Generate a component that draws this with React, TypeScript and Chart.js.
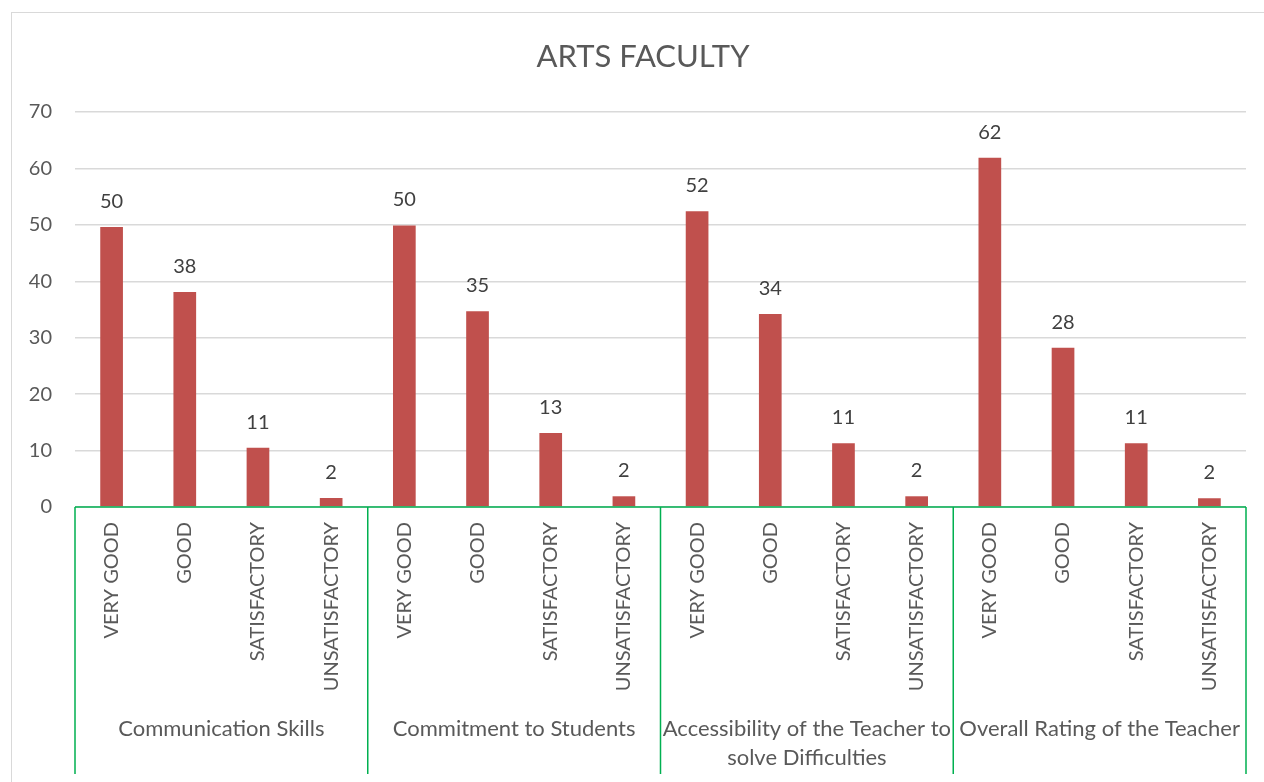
import React, { useEffect, useRef } from "react";
import { Chart, registerables } from "chart.js";

Chart.register(...registerables);

const TITLE = "ARTS FACULTY";
const ratingLabels = ["VERY GOOD", "GOOD", "SATISFACTORY", "UNSATISFACTORY"];
const groupLabels: string[][] = [
  ["Communication Skills"],
  ["Commitment to Students"],
  ["Accessibility of the Teacher to", "solve Difficulties"],
  ["Overall Rating of the Teacher"],
];
const communication = [49.6, 38.1, 10.5, 1.6];
const commitment = [49.9, 34.7, 13.1, 1.9];
const accessibility = [52.4, 34.2, 11.3, 1.9];
const overall = [61.9, 28.2, 11.3, 1.55];
const yTicks = [0, 10, 20, 30, 40, 50, 60, 70];

const FONT = "Lato, 'Open Sans', sans-serif";
const GREEN = "#00B050";

const categories = groupLabels.flatMap(() => ratingLabels);
const values = [...communication, ...commitment, ...accessibility, ...overall];

const overlay = {
  id: "overlay",
  beforeDraw(chart: any) {
    const ctx = chart.ctx;
    ctx.save();
    ctx.strokeStyle = "#D9D9D9";
    ctx.lineWidth = 1;
    ctx.strokeRect(11.5, 12.5, 1400, 900);
    ctx.restore();
  },
  afterDraw(chart: any) {
    const ctx = chart.ctx;
    const area = chart.chartArea;
    const xs = chart.scales.x;
    const meta = chart.getDatasetMeta(0);
    ctx.save();
    // title
    ctx.fillStyle = "#595959";
    ctx.font = `31px ${FONT}`;
    ctx.textAlign = "center";
    ctx.textBaseline = "middle";
    ctx.fillText(TITLE, 643, 57);
    // data labels
    ctx.fillStyle = "#404040";
    ctx.font = `20px ${FONT}`;
    meta.data.forEach((bar: any, i: number) => {
      ctx.fillText(String(Math.round(values[i])), bar.x, bar.y - 25.5);
    });
    // green axis lines
    const step = (area.right - area.left) / categories.length;
    ctx.strokeStyle = GREEN;
    ctx.lineWidth = 1.5;
    ctx.beginPath();
    ctx.moveTo(area.left, area.bottom);
    ctx.lineTo(area.right, area.bottom);
    for (let g = 0; g <= groupLabels.length; g++) {
      const x = xs.getPixelForValue(g * ratingLabels.length) - step / 2;
      ctx.moveTo(x, area.bottom);
      ctx.lineTo(x, 774);
    }
    ctx.stroke();
    // group labels
    ctx.fillStyle = "#595959";
    ctx.font = `22px ${FONT}`;
    groupLabels.forEach((lines, g) => {
      const x0 = xs.getPixelForValue(g * ratingLabels.length) - step / 2;
      const cx = x0 + (step * ratingLabels.length) / 2;
      lines.forEach((line, li) => {
        ctx.fillText(line, cx, 729 + li * 29);
      });
    });
    ctx.restore();
  },
};

export default function App() {
  const ref = useRef<HTMLCanvasElement | null>(null);
  useEffect(() => {
    if (!ref.current) return;
    const chart = new Chart(ref.current, {
      type: "bar",
      data: {
        labels: categories,
        datasets: [
          {
            data: values,
            backgroundColor: "#C0504D",
            borderWidth: 0,
            barPercentage: 0.62,
            categoryPercentage: 0.5,
          },
        ],
      },
      options: {
        animation: false,
        responsive: true,
        maintainAspectRatio: false,
        layout: { padding: { top: 112, right: 18, left: 0, bottom: 0 } },
        plugins: {
          legend: { display: false },
          title: { display: false },
          tooltip: { enabled: false },
        },
        scales: {
          x: {
            grid: { display: false, drawTicks: false },
            border: { display: false },
            afterFit: (s: any) => {
              s.height = 275;
            },
            ticks: {
              autoSkip: false,
              minRotation: 90,
              maxRotation: 90,
              padding: 15,
              color: "#595959",
              font: { family: FONT, size: 20 },
            },
          },
          y: {
            min: 0,
            max: 70,
            afterBuildTicks: (s: any) => {
              s.ticks = yTicks.map((v) => ({ value: v }));
            },
            afterFit: (s: any) => {
              s.width = 75;
            },
            grid: { color: "#D9D9D9", lineWidth: 1.5, drawTicks: false },
            border: { display: false },
            ticks: {
              padding: 23,
              color: "#595959",
              font: { family: FONT, size: 20 },
            },
          },
        },
      },
      plugins: [overlay],
    });
    return () => chart.destroy();
  }, []);
  return (
    <div style={{ position: "fixed", left: 0, top: 0, width: 1264, height: 782, background: "#fff" }}>
      <canvas ref={ref} />
    </div>
  );
}
